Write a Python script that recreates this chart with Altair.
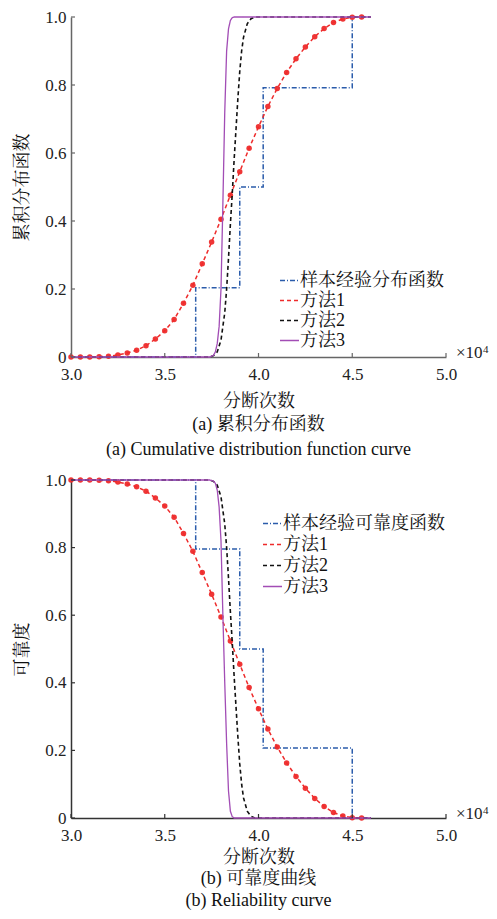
import altair as alt
import pandas as pd

FONT = "Liberation Serif, Noto Serif CJK SC, Noto Sans CJK SC"
W = 375

# ---------------- data ----------------
names_a = ["样本经验分布函数", "方法1", "方法2", "方法3"]
names_b = ["样本经验可靠度函数", "方法1", "方法2", "方法3"]

# empirical step function (x in units of 1e4)
step_x = [3.0, 3.665, 3.90, 4.025, 4.50, 4.60]
step_cdf = [0.0, 0.204, 0.5, 0.792, 1.0, 1.0]
step_rel = [1.0, 0.796, 0.5, 0.207, 0.0, 0.0]

# method 1 (markers)
m1_x = [3.00, 3.05, 3.10, 3.15, 3.20, 3.25, 3.30, 3.35, 3.40, 3.45, 3.50, 3.55,
        3.60, 3.65, 3.70, 3.75, 3.80, 3.85, 3.90, 3.95, 4.00, 4.05, 4.10, 4.15,
        4.20, 4.25, 4.30, 4.35, 4.40, 4.45, 4.50, 4.55]
m1_cdf = [0.0, 0.0, 0.0, 0.001, 0.002, 0.006, 0.012, 0.02, 0.033, 0.053, 0.077, 0.11,
          0.158, 0.211, 0.274, 0.338, 0.405, 0.476, 0.545, 0.614, 0.677, 0.737, 0.79, 0.837,
          0.877, 0.912, 0.942, 0.966, 0.984, 0.994, 0.999, 1.0]
m1_rel = [1.0, 1.0, 1.0, 0.999, 0.998, 0.994, 0.988, 0.98, 0.967, 0.947, 0.923, 0.89,
          0.842, 0.789, 0.726, 0.662, 0.595, 0.524, 0.455, 0.386, 0.323, 0.263, 0.21, 0.163,
          0.123, 0.088, 0.058, 0.034, 0.016, 0.006, 0.001, 0.0]

# method 2
m2_x = [3.0, 3.74, 3.76, 3.78, 3.80, 3.82, 3.83, 3.84, 3.85, 3.86, 3.87, 3.88, 3.89,
        3.90, 3.91, 3.92, 3.94, 3.96, 3.98, 4.6]
m2_cdf = [0.0, 0.0, 0.004, 0.015, 0.05, 0.13, 0.2, 0.29, 0.39, 0.48, 0.58, 0.67, 0.76,
          0.84, 0.9, 0.94, 0.98, 0.995, 1.0, 1.0]
m2_rel = [1.0, 1.0, 0.996, 0.985, 0.95, 0.87, 0.8, 0.71, 0.61, 0.52, 0.42, 0.33, 0.24,
          0.16, 0.1, 0.06, 0.02, 0.005, 0.0, 0.0]

# method 3
m3_x = [3.0, 3.74, 3.76, 3.77, 3.78, 3.79, 3.80, 3.81, 3.82, 3.83, 3.84, 3.85, 3.86, 3.87, 4.6]
m3_cdf = [0.0, 0.0, 0.005, 0.015, 0.04, 0.09, 0.2, 0.45, 0.72, 0.9, 0.965, 0.99, 0.998, 1.0, 1.0]
m3_rel = [1.0, 1.0, 0.997, 0.99, 0.97, 0.92, 0.82, 0.6, 0.4, 0.22, 0.08, 0.02, 0.004, 0.0, 0.0]

x_ticks = [3.0, 3.5, 4.0, 4.5, 5.0]
y_ticks = [0.0, 0.2, 0.4, 0.6, 0.8, 1.0]

COLORS = ["#2b5cab", "#ee2b2b", "#111111", "#a24db5"]
DASHES = [[5, 2, 1, 2], [4, 3], [4, 3], [1, 0]]

AX = dict(ticks=False, grid=False, domainWidth=1.5, labelFlush=False,
          labelFont=FONT, labelFontSize=17, labelColor="#222",
          titleFont=FONT, titleFontSize=18, titleFontWeight="normal", titleColor="#111")


def panel(names, sy, r1, r2, r3, ytitle, caption, lx, ly, row_pad, axis_color, H,
          x_title_pad, cap_offset, cap_lh):
    xs = alt.Scale(domain=[3.0, 5.0], nice=False, zero=False)
    ys = alt.Scale(domain=[0.0, 1.0], nice=False, zero=False)
    xenc = alt.X("x:Q", scale=xs, axis=alt.Axis(
        values=x_ticks, format=".1f", title="分断次数", domainColor=axis_color,
        labelPadding=9, titlePadding=x_title_pad, **AX))
    yenc = alt.Y("y:Q", scale=ys, axis=alt.Axis(
        values=y_ticks, labelExpr="datum.value == 0 ? '0' : format(datum.value, '.1f')",
        title=ytitle, domainColor=axis_color, labelPadding=5, titlePadding=13, **AX))
    leg = alt.Legend(title=None, orient="none", legendX=lx, legendY=ly,
                     symbolType="stroke", symbolSize=361, symbolStrokeWidth=1.6,
                     labelFont=FONT, labelFontSize=18, labelColor="#111",
                     rowPadding=row_pad, labelOffset=0, padding=0, labelLimit=300)
    cenc = alt.Color("s:N", scale=alt.Scale(domain=names, range=COLORS), legend=leg)
    denc = alt.StrokeDash("s:N", scale=alt.Scale(domain=names, range=DASHES), legend=leg)

    d_step = pd.DataFrame({"x": step_x, "y": sy, "s": names[0]})
    d1 = pd.DataFrame({"x": m1_x, "y": r1, "s": names[1]})
    d2 = pd.DataFrame({"x": m2_x, "y": r2, "s": names[2]})
    d3 = pd.DataFrame({"x": m3_x, "y": r3, "s": names[3]})

    l_step = alt.Chart(d_step).mark_line(interpolate="step-after", strokeWidth=1.5).encode(
        x=xenc, y=yenc, color=cenc, strokeDash=denc)
    l1 = alt.Chart(d1).mark_line(strokeWidth=1.5).encode(x=xenc, y=yenc, color=cenc, strokeDash=denc)
    p1 = alt.Chart(d1).mark_point(filled=True, size=30, color="#ee2b2b", opacity=0.95).encode(x=xenc, y=yenc)
    l2 = alt.Chart(d2).mark_line(strokeWidth=1.6).encode(x=xenc, y=yenc, color=cenc, strokeDash=denc)
    l3 = alt.Chart(d3).mark_line(strokeWidth=1.3).encode(x=xenc, y=yenc, color=cenc, strokeDash=denc)

    xt = alt.Chart(pd.DataFrame({"x": x_ticks})).mark_rule(color=axis_color, strokeWidth=1.2).encode(
        x=xenc, y=alt.value(H), y2=alt.value(H - 4))
    yt = alt.Chart(pd.DataFrame({"y": y_ticks})).mark_rule(color=axis_color, strokeWidth=1.2).encode(
        y=yenc, x=alt.value(0), x2=alt.value(4))

    mult = alt.Chart(pd.DataFrame({"t": ["×10"]})).mark_text(
        font=FONT, fontSize=17, align="left", baseline="alphabetic", color="#222").encode(
        text="t:N", x=alt.value(W + 10), y=alt.value(H + 1))
    sup = alt.Chart(pd.DataFrame({"t": ["4"]})).mark_text(
        font=FONT, fontSize=11, align="left", baseline="alphabetic", color="#222").encode(
        text="t:N", x=alt.value(W + 37), y=alt.value(H - 4))

    return alt.layer(l_step, l1, p1, l2, l3, xt, yt, mult, sup).properties(
        width=W, height=H,
        view=alt.ViewBackground(stroke="transparent", strokeWidth=0),
        title=alt.Title(caption, orient="bottom", anchor="middle", font=FONT,
                        fontSize=18, fontWeight="normal", color="#111", offset=cap_offset,
                        lineHeight=cap_lh, frame="group"),
    ).resolve_scale(color="shared", strokeDash="shared")


pa = panel(names_a, step_cdf, m1_cdf, m2_cdf, m3_cdf, "累积分布函数",
           ["(a) 累积分布函数", "(a) Cumulative distribution function curve"],
           208, 253, 0, "#666666", 340, 10, 6, 25)
pb = panel(names_b, step_rel, m1_rel, m2_rel, m3_rel, "可靠度",
           ["(b) 可靠度曲线", "(b) Reliability curve"],
           191, 33, 1, "#333333", 338, 5, 4, 22)

chart = alt.vconcat(pa, pb, spacing=12).resolve_scale(
    color="independent", strokeDash="independent"
).resolve_legend(color="independent", strokeDash="independent").configure_view(
    strokeWidth=0, stroke="transparent"
).configure(padding={"left": 5, "top": 0, "right": 0, "bottom": 0})

chart.save("out.html", embed_options={"renderer": "svg", "actions": False})
